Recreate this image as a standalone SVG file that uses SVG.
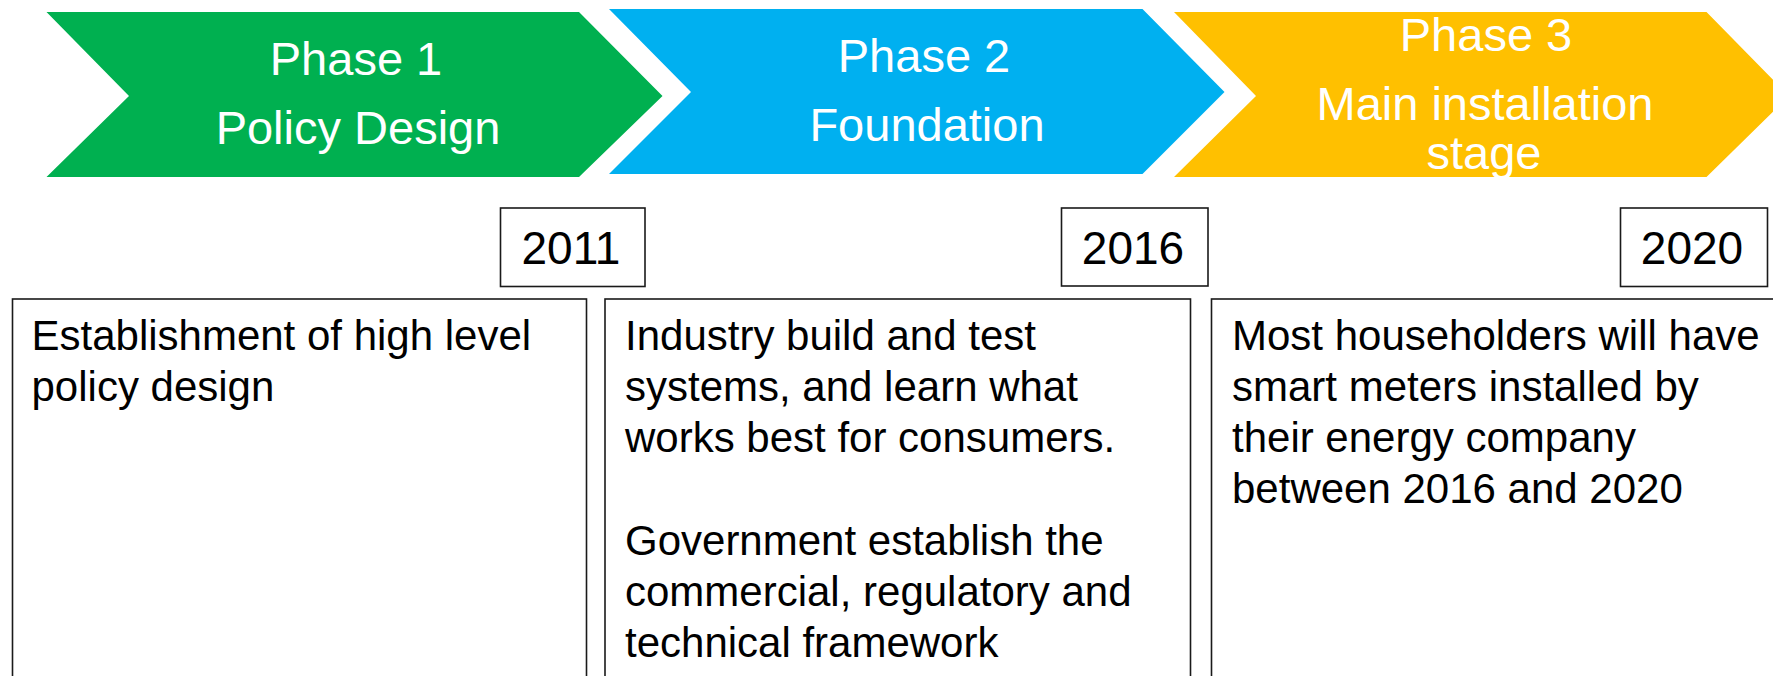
<svg xmlns="http://www.w3.org/2000/svg" width="1773" height="676" viewBox="0 0 1773 676">
<style>
.ph{font-family:"Liberation Sans",Arial,sans-serif;font-size:47px;fill:#fff;text-anchor:middle}
.yr{font-family:"Liberation Sans",Arial,sans-serif;font-size:46px;fill:#000;text-anchor:middle}
.tx{font-family:"Liberation Sans",Arial,sans-serif;font-size:42px;fill:#000}
.bx{fill:#fff;stroke:#1a1a1a;stroke-width:1.6}
</style>
<rect width="1773" height="676" fill="#fff"/>
<g id="phase1">
<polygon points="46.5,12 579,12 662.5,96 579,177 46.5,177 129,96" fill="#00B050"/>
<text class="ph" x="356" y="75">Phase 1</text>
<text class="ph" x="358" y="144">Policy Design</text>
</g>
<g id="phase2">
<polygon points="609,9 1142.5,9 1224.5,92 1142.5,174 609,174 691,92" fill="#00B0F0"/>
<text class="ph" x="924" y="71.5">Phase 2</text>
<text class="ph" x="927" y="141">Foundation</text>
</g>
<g id="phase3">
<polygon points="1174,12 1706.5,12 1789,96 1706.5,177 1174,177 1256,96" fill="#FFC000"/>
<text class="ph" x="1486" y="51">Phase 3</text>
<text class="ph" x="1485" y="119.5">Main installation</text>
<text class="ph" x="1484" y="169">stage</text>
</g>
<g id="year2011">
<rect class="bx" x="500.5" y="208" width="144.5" height="78.5"/>
<text class="yr" x="571" y="264">2011</text>
</g>
<g id="year2016">
<rect class="bx" x="1061.5" y="208" width="146.5" height="78"/>
<text class="yr" x="1133" y="264">2016</text>
</g>
<g id="year2020">
<rect class="bx" x="1620.5" y="208" width="147" height="78.5"/>
<text class="yr" x="1692" y="264">2020</text>
</g>
<g id="desc1">
<rect class="bx" x="12.5" y="299" width="574" height="400"/>
<text class="tx" x="31.5" y="350">Establishment of high level</text>
<text class="tx" x="31.5" y="401">policy design</text>
</g>
<g id="desc2">
<rect class="bx" x="605" y="299" width="585.5" height="400"/>
<text class="tx" x="625" y="350">Industry build and test</text>
<text class="tx" x="625" y="401">systems, and learn what</text>
<text class="tx" x="625" y="452">works best for consumers.</text>
<text class="tx" x="625" y="555">Government establish the</text>
<text class="tx" x="625" y="606">commercial, regulatory and</text>
<text class="tx" x="625" y="657">technical framework</text>
</g>
<g id="desc3">
<rect class="bx" x="1211.5" y="299" width="600" height="400"/>
<text class="tx" x="1232" y="350">Most householders will have</text>
<text class="tx" x="1232" y="401">smart meters installed by</text>
<text class="tx" x="1232" y="452">their energy company</text>
<text class="tx" x="1232" y="503">between 2016 and 2020</text>
</g>
<g id="connectors"></g>
</svg>
